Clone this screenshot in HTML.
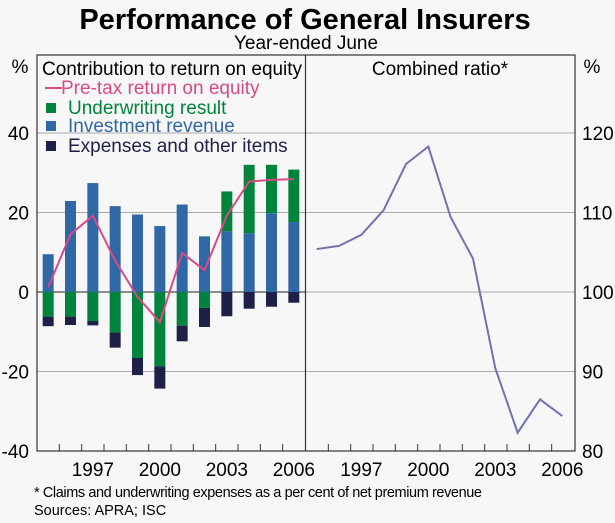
<!DOCTYPE html>
<html><head><meta charset="utf-8"><style>
body{margin:0;background:#f7f7f7;}
svg{display:block;font-family:"Liberation Sans",Arial,sans-serif;}
</style></head><body>
<svg id="c" width="615" height="523" viewBox="0 0 615 523" xmlns="http://www.w3.org/2000/svg">
<rect width="615" height="523" fill="#f7f7f7"/>
<text x="305" y="29" font-size="29" font-weight="bold" text-anchor="middle">Performance of General Insurers</text>
<text x="306" y="49" font-size="19" text-anchor="middle">Year-ended June</text>
<g id="grid"></g><g id="marks"></g><g id="axes"></g>
<text x="20" y="73" font-size="19" text-anchor="middle">%</text>
<text x="592" y="73" font-size="19" text-anchor="middle">%</text>
<text x="42" y="75" font-size="19" textLength="260">Contribution to return on equity</text>
<text x="440" y="75" font-size="19" text-anchor="middle">Combined ratio*</text>
<g>
<line x1="45" y1="88" x2="62" y2="88" stroke="#d84a86" stroke-width="2"/>
<text x="61" y="94" font-size="19" fill="#d84a86">Pre-tax return on equity</text>
<rect x="46" y="103" width="10" height="10" fill="#00843d"/>
<text x="68" y="114" font-size="19" fill="#00843d">Underwriting result</text>
<rect x="46" y="121" width="10" height="10" fill="#3067a5"/>
<text x="68" y="132" font-size="19" fill="#3067a5">Investment revenue</text>
<rect x="46" y="141" width="10" height="10" fill="#1e2047"/>
<text x="68" y="152" font-size="19" fill="#1e2047">Expenses and other items</text>
</g>
<text x="34" y="497" font-size="14.5" textLength="448">*   Claims and underwriting expenses as a per cent of net premium revenue</text>
<text x="34" y="515" font-size="14.5">Sources: APRA; ISC</text>
</svg>
<script>
const years=[1995,1996,1997,1998,1999,2000,2001,2002,2003,2004,2005,2006];
const investment=[9.5,22.9,27.4,21.6,19.5,16.6,22.0,14.0,15.3,14.8,19.8,17.6];
const underwriting=[-6.2,-6.2,-7.3,-10.2,-16.6,-18.7,-8.5,-4.0,10.0,17.2,12.2,13.2];
const expenses=[-2.4,-2.1,-1.1,-3.8,-4.3,-5.6,-3.9,-4.8,-6.1,-4.2,-3.7,-2.7];
const pretax=[1.2,14.5,19.2,7.9,-1.2,-7.6,9.8,5.5,19.2,27.8,28.2,28.4];
const combined=[105.4,105.8,107.2,110.3,116.1,118.3,109.4,104.2,90.4,82.3,86.5,84.4];
const leftTicks=[-40,-20,0,20,40];
const rightTicks=[80,90,100,110,120];
const yearLabels=[1997,2000,2003,2006];

const NS="http://www.w3.org/2000/svg";
const T=55,B=451,L1=37,R1=305,L2=306,R2=575,step=(R1-L1)/12;
function yl(v){return 292-v*((B-292)/40);}
function yr(v){return 292-(v-100)*((B-292)/20);}
function xl(i){return L1+step*(i+0.5);}
function xr(i){return L2+step*(i+0.5)-0.5;}
function mk(tag,attrs,parent){const e=document.createElementNS(NS,tag);for(const k in attrs)e.setAttribute(k,attrs[k]);document.getElementById(parent).appendChild(e);return e;}
leftTicks.forEach(v=>{
 const g=mk('line',{x1:L1,x2:R2,y1:yl(v),y2:yl(v),stroke:v===0?'#222':'#aaa','stroke-width':1},'grid');
 
 
 if(v===0){g.setAttribute('x2',R1);const g2=mk('line',{x1:L2,x2:R2,y1:yl(0),y2:yl(0),stroke:'#aaa'},'grid');}
 const t=mk('text',{x:29,y:yl(v)+7,'font-size':19,'text-anchor':'end'},'axes');t.textContent=v;
 
 
});
rightTicks.forEach(v=>{
 const t=mk('text',{x:582,y:yr(v)+7,'font-size':19},'axes');t.textContent=v;
 
 
});
const bw=11;
years.forEach((y,i)=>{
 const x=xl(i)-bw/2;
 const parts=[];
 parts.push(['investment',0,investment[i],'#3067a5']);
 if(underwriting[i]>=0){parts.push(['underwriting',investment[i],investment[i]+underwriting[i],'#00843d']);parts.push(['expenses',0,expenses[i],'#1e2047']);}
 else{parts.push(['underwriting',0,underwriting[i],'#00843d']);parts.push(['expenses',underwriting[i],underwriting[i]+expenses[i],'#1e2047']);}
 parts.forEach(p=>{
  const a=yl(p[1]),b=yl(p[2]);
  const r=mk('rect',{x:x,y:Math.min(a,b),width:bw,height:Math.abs(a-b),fill:p[3]},'marks');
  
  
 });
});
const pl=mk('polyline',{points:pretax.map((v,i)=>xl(i)+','+yl(v)).join(' '),fill:'none',stroke:'#d84a86','stroke-width':2},'marks');


const cl=mk('polyline',{points:combined.map((v,i)=>xr(i)+','+yr(v)).join(' '),fill:'none',stroke:'#7272ae','stroke-width':2},'marks');


const fr=mk('rect',{x:L1,y:T,width:R2-L1,height:B-T,fill:'none',stroke:'#333','stroke-width':1.2},'axes');


const dv=mk('line',{x1:R1+0.5,x2:R1+0.5,y1:T,y2:B,stroke:'#333','stroke-width':1.2},'axes');


for(let k=1;k<12;k++){
 [L1+step*k,L2+step*k].forEach(x=>{
  const t=mk('line',{x1:x,x2:x,y1:B,y2:B-7,stroke:'#333'},'axes');
  
  
 });
}
yearLabels.forEach(y=>{
 const i=years.indexOf(y);
 [xl(i),xr(i)].forEach(x=>{
  const t=mk('text',{x:x,y:476,'font-size':19,'text-anchor':'middle'},'axes');t.textContent=y;
  
  
 });
});
</script>
</body></html>
